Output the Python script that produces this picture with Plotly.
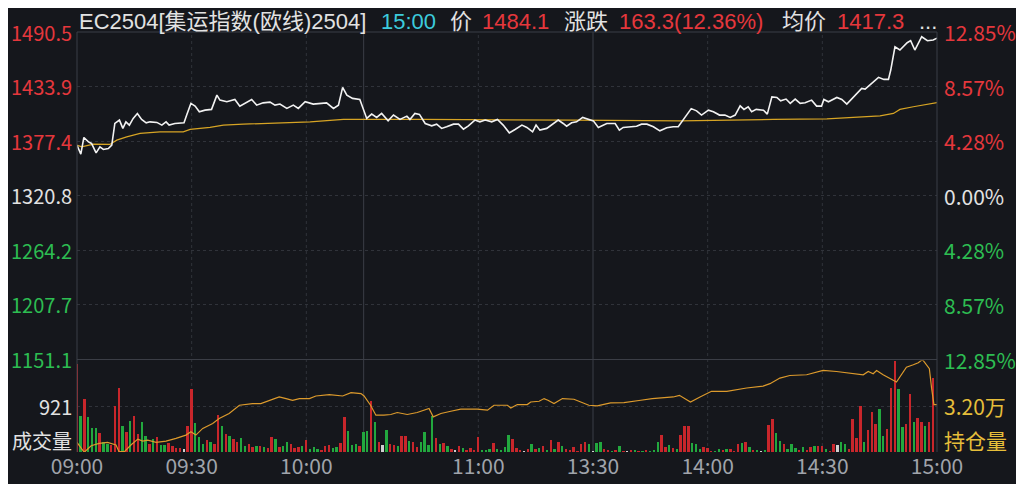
import plotly.graph_objects as go

# ---------------- data ----------------
tick_minutes = [0, 30, 60, 105, 135, 165, 195, 225]
tick_labels = ["09:00", "09:30", "10:00", "11:00", "13:30", "14:00", "14:30", "15:00"]
half_hour_lines = [30, 60, 105, 165, 195]
session_breaks = [75, 135]

contract_name = "EC2504[集运指数(欧线)2504]"
last_time = "15:00"
pre_settle = 1320.8
price_ticks = [1490.5, 1433.9, 1377.4, 1320.8, 1264.2, 1207.7, 1151.1]
pct_labels = ["12.85%", "8.57%", "4.28%", "0.00%", "4.28%", "8.57%", "12.85%"]

# price line (minutes after 09:00 in trading time, price)
price_min = [0, 1.0, 1.8, 3.0, 3.8, 5.0, 6.0, 6.9, 8.2, 9.1,
             9.9, 11.1, 12.0, 12.8, 13.7, 14.7, 15.8, 16.9, 18.1, 19.1,
             20.9, 22.2, 23.3, 24.1, 25.6, 28.0, 28.7, 29.8, 30.9, 32.0,
             33.5, 35.2, 36.6, 37.4, 39.2, 41.3, 42.6, 44.0, 45.7, 47.0,
             48.7, 50.5, 51.8, 53.1, 54.9, 56.6, 57.9, 59.7, 61.8, 65.3,
             67.1, 68.4, 69.5, 70.6, 72.1, 74.0, 75.8, 77.1, 78.4, 79.7,
             81.4, 82.8, 84.5, 86.3, 87.1, 88.4, 89.6, 91.1, 92.8, 94.1,
             95.4, 96.7, 98.5, 99.8, 101.1, 102.4, 104.1, 105.4, 106.8, 108.5,
             110.0, 111.5, 113.1, 114.6, 116.4, 117.7, 119.2, 120.1, 121.1, 122.9,
             124.6, 125.9, 127.2, 128.1, 129.4, 130.7, 132.3, 133.8, 135.1, 136.4,
             138.6, 140.8, 141.9, 142.9, 144.7, 146.4, 147.7, 149.1, 150.8, 152.5,
             154.3, 156.0, 157.3, 159.0, 160.7, 162.1, 163.4, 165.2, 166.5, 168.1,
             169.5, 170.9, 172.2, 173.5, 174.5, 175.6, 176.5, 177.7, 179.6, 180.6,
             181.8, 183.1, 184.1, 185.5, 186.6, 187.9, 189.2, 190.5, 192.2, 193.5,
             194.8, 195.4, 196.6, 198.8, 200.1, 201.4, 203.1, 205.3, 206.2, 208.3,
             209.7, 211.1, 212.3, 212.9, 214.0, 215.3, 217.2, 218.1, 219.2, 221.0,
             222.5, 224.0, 225.0]
price_val = [1373.2, 1363.9, 1381.2, 1376.6, 1375.0, 1365.2, 1371.5, 1368.8, 1369.8, 1373.2,
             1395.7, 1399.2, 1390.6, 1397.4, 1394.0, 1400.9, 1406.1, 1399.9, 1396.4, 1397.4,
             1396.8, 1394.0, 1397.4, 1394.0, 1395.7, 1396.4, 1404.4, 1416.5, 1413.7, 1407.8,
             1409.5, 1410.3, 1425.1, 1419.9, 1418.2, 1420.6, 1413.7, 1416.5, 1420.6, 1414.7,
             1417.1, 1417.8, 1414.7, 1415.8, 1411.3, 1414.7, 1411.3, 1418.2, 1415.8, 1417.1,
             1411.3, 1414.7, 1433.1, 1425.1, 1421.7, 1420.6, 1400.9, 1405.4, 1402.0, 1406.1,
             1398.4, 1404.4, 1399.9, 1403.3, 1399.9, 1406.1, 1405.1, 1395.7, 1393.3, 1395.0,
             1390.6, 1392.3, 1395.0, 1395.0, 1389.8, 1393.3, 1399.2, 1397.4, 1399.2, 1397.4,
             1399.9, 1394.0, 1386.0, 1389.5, 1394.0, 1391.6, 1387.0, 1394.0, 1388.8, 1390.6,
             1395.0, 1399.2, 1395.7, 1392.9, 1396.4, 1397.4, 1402.0, 1399.9, 1398.4, 1391.6,
             1395.7, 1395.7, 1388.8, 1391.6, 1392.3, 1392.9, 1395.0, 1395.0, 1392.3, 1388.1,
             1391.2, 1392.3, 1392.3, 1401.8, 1411.1, 1408.8, 1404.4, 1409.5, 1407.8, 1404.4,
             1404.4, 1402.0, 1404.4, 1414.0, 1410.3, 1413.0, 1407.8, 1410.3, 1409.5, 1405.4,
             1423.3, 1422.7, 1419.2, 1421.0, 1416.5, 1421.0, 1416.5, 1417.1, 1419.9, 1413.7,
             1413.7, 1420.6, 1418.2, 1422.7, 1420.6, 1415.8, 1423.3, 1432.1, 1431.3, 1438.9,
             1443.5, 1441.4, 1441.4, 1451.1, 1475.2, 1471.8, 1479.4, 1481.5, 1471.8, 1485.6,
             1481.5, 1482.2, 1484.1]

# average price line
avg_min = [0, 1.2, 4.3, 8.6, 10.4, 13.0, 16.5, 21.7, 27.8, 29.6, 34.8, 38.3, 43.5, 52.3,
           61.0, 69.7, 78.4, 90.0, 130.0, 157.8, 182.2, 196.2, 203.1, 210.1, 213.6, 215.3,
           218.8, 224.0, 225.0]
avg_val = [1373.2, 1371.5, 1374.3, 1374.0, 1378.4, 1381.8, 1385.4, 1387.0, 1387.0, 1389.5,
           1391.6, 1394.0, 1395.0, 1396.4, 1397.4, 1399.9, 1400.2, 1399.9, 1399.2, 1398.4,
           1399.9, 1400.5, 1402.0, 1403.6, 1406.1, 1410.3, 1413.0, 1416.5, 1417.3]

# per-minute volume (lots), direction R=up G=down W=flat
volume = [1774, 740, 1087, 707, 487, 487, 393, 207, 173, 153,
          940, 1307, 540, 407, 640, 727, 373, 620, 340, 173,
          273, 307, 153, 153, 193, 127, 87, 87, 73, 540,
          1274, 594, 307, 173, 260, 220, 173, 754, 527, 373,
          327, 273, 207, 287, 127, 173, 107, 140, 127, 107,
          87, 307, 273, 107, 140, 220, 173, 87, 107, 140,
          260, 73, 107, 73, 60, 140, 153, 87, 107, 193,
          707, 440, 153, 173, 127, 420, 440, 1040, 607, 220,
          153, 460, 173, 153, 140, 327, 327, 240, 220, 107,
          207, 407, 153, 740, 287, 173, 193, 140, 73, 60,
          140, 87, 60, 87, 60, 307, 60, 60, 73, 193,
          73, 60, 107, 353, 273, 87, 60, 40, 73, 173,
          73, 87, 127, 60, 260, 73, 220, 140, 73, 60,
          107, 40, 173, 207, 173, 40, 193, 220, 73, 60,
          40, 60, 127, 40, 40, 60, 60, 40, 40, 60,
          40, 60, 207, 353, 107, 153, 87, 73, 353, 540,
          540, 193, 173, 73, 107, 87, 40, 40, 73, 60,
          73, 73, 40, 173, 193, 220, 107, 60, 60, 40,
          60, 554, 674, 394, 240, 173, 73, 173, 87, 60,
          107, 60, 107, 140, 127, 127, 73, 40, 173, 153,
          220, 173, 73, 674, 287, 927, 220, 460, 807, 574,
          874, 340, 474, 1307, 1841, 1287, 507, 574, 1174, 607,
          687, 607, 540, 620, 1507]
vol_dir = list("RGRGGGRGGR" "RRGRGRRGGR" "GRGGRRRRWR" "RGGGRGRRGR" "GRRGGRRGRG"
               "RRGRGGRRRG" "RGGGRRRGGR" "RGGGR" "GGRGR" "WGRRGRRGRR" "GGGGRGRGRW"
               "RGRRRRGGGR" "GGGGRRRWRG" "RGRGRGRGRR" "RRRRGWGGRR" "GRGRWRGRGR"
               "GGGRRGRGRR" "RGGGRRRGGR" "GRRRGRGRGW" "GRRGGRGGGR" "GRRGRRGRRW"
               "GGRRRRGRRR" "GGRRRGGRRG" "RRGRR")
vol_axis_max = 1842
vol_label = "921"

# open interest line
oi_min = [0, 1.9, 3.7, 5.8, 8.0, 10.2, 11.0, 12.4, 14.1, 15.9, 17.2, 18.5, 20.7, 23.3, 25.9,
          28.5, 29.8, 31.1, 32.9, 35.5, 37.2, 39.8, 42.5, 45.9, 48.1, 50.3, 52.9, 54.7, 56.4,
          58.2, 60.8, 62.5, 66.0, 69.5, 71.7, 74.3, 75.1, 76.8, 78.2, 80.3, 82.1, 83.8, 86.4,
          89.0, 90.8, 92.1, 93.2, 95.2, 97.8, 100.4, 104.7, 107.4, 109.1, 112.6, 113.5, 115.2,
          117.8, 118.7, 120.9, 122.2, 123.2, 124.8, 127.0, 130.0, 131.8, 133.9, 136.1, 139.6,
          143.1, 144.8, 147.5, 150.5, 153.4, 156.0, 157.6, 160.5, 163.0, 166.0, 170.0, 175.2,
          179.5, 181.3, 183.9, 186.5, 190.9, 195.2, 198.7, 203.1, 205.7, 207.0, 208.3, 209.2,
          210.9, 214.4, 217.0, 218.8, 220.1, 221.2, 223.0, 223.6, 224.2, 225.0]
oi_val = [30737, 30390, 30619, 30703, 30737, 30643, 30410, 30410, 30643, 30852, 30783, 30817,
          30737, 30783, 30876, 30991, 31107, 30991, 31224, 31398, 31572, 31746, 32035, 32094,
          32094, 32209, 32325, 32268, 32209, 32268, 32268, 32358, 32407, 32358, 32476, 32442,
          32358, 32035, 31687, 31687, 31711, 31781, 31711, 31781, 31861, 31920, 31628, 31746,
          31826, 31896, 31896, 31861, 32035, 32035, 31941, 32059, 32059, 32150, 32174, 32268,
          32209, 32094, 32268, 32244, 32150, 32035, 32012, 32115, 32128, 32150, 32209, 32268,
          32289, 32325, 32383, 32150, 32325, 32522, 32522, 32638, 32706, 32789, 32985, 33076,
          33101, 33252, 33216, 33137, 33101, 33216, 33137, 33252, 33101, 32846, 33368, 33450,
          33520, 33635, 33311, 32615, 32059, 32059]
oi_range = [30400, 33600]
oi_label = "3.20万"

assert len(price_min) == len(price_val)
assert len(avg_min) == len(avg_val)
assert len(volume) == len(vol_dir)
assert len(oi_min) == len(oi_val)

# ---------------- styling ----------------
BG = "#15171c"
RED = "#e5373c"
GREEN = "#2dbd52"
WHITE = "#e2e2e2"
GRAY = "#a0a4ab"
CYAN = "#3ccbdc"
YELLOW = "#e6be3a"
GRID = "#30333a"
SOLID = "#3b3e46"
FONT = "Noto Sans CJK SC, Microsoft YaHei, sans-serif"
TITLE_FONT = "Liberation Sans, Noto Sans CJK SC, sans-serif"
FS = 21
FS_LEFT = 20
FS_TITLE = 22

# target plot box in the final picture: x 77..937, y 32..452
W, H = 1024, 484
L, R, T, B = 69, 95, 24, 32
PW = W - L - R            # 860
PLOT_TOP, PLOT_BOT = 32, 452
PH = PLOT_BOT - PLOT_TOP  # 420
price_dom = [(PLOT_BOT - 359.5) / PH, 1.0]
vol_dom = [0.0, (PLOT_BOT - 360.5) / PH]

dir_color = {"R": "#c8262b", "G": "#22a83e", "W": "#d0d0d0"}
bar_x = list(range(len(volume)))

fig = go.Figure()
fig.add_trace(go.Bar(x=bar_x, y=volume, marker=dict(color=[dir_color[d] for d in vol_dir], line=dict(width=0)),
                     width=0.5, xaxis="x2", yaxis="y3", hoverinfo="skip"))
fig.add_trace(go.Scatter(x=oi_min, y=oi_val, mode="lines", line=dict(color="#dc9a2c", width=1.2),
                         xaxis="x2", yaxis="y4", hoverinfo="skip"))
fig.add_trace(go.Scatter(x=avg_min, y=avg_val, mode="lines", line=dict(color="#d6a424", width=1.2),
                         xaxis="x", yaxis="y", hoverinfo="skip"))
fig.add_trace(go.Scatter(x=price_min, y=price_val, mode="lines", line=dict(color="#f2f2f2", width=1.6),
                         xaxis="x", yaxis="y", hoverinfo="skip"))

shapes = []
for m in half_hour_lines:
    shapes.append(dict(type="line", xref="x", yref="paper", x0=m, x1=m, y0=0, y1=1,
                       line=dict(color=GRID, width=1, dash="dot"), layer="below"))
for m in session_breaks:
    shapes.append(dict(type="line", xref="x", yref="paper", x0=m, x1=m, y0=0, y1=1,
                       line=dict(color=SOLID, width=1), layer="below"))
shapes.append(dict(type="line", xref="paper", yref="paper", x0=0, x1=1, y0=1, y1=1, line=dict(color=SOLID, width=1)))
shapes.append(dict(type="line", xref="paper", yref="paper", x0=0, x1=1, y0=price_dom[0], y1=price_dom[0],
                   line=dict(color=SOLID, width=1)))
shapes.append(dict(type="line", xref="paper", yref="paper", x0=0, x1=0, y0=0, y1=1, line=dict(color=SOLID, width=1)))
shapes.append(dict(type="line", xref="paper", yref="paper", x0=1, x1=1, y0=0, y1=1, line=dict(color=SOLID, width=1)))

ann = []
def px_x(px):
    return (px - 77) / PW
def px_y(py):
    return (PLOT_BOT - py) / PH

for t, pl in zip(price_ticks, pct_labels):
    if t > pre_settle + 1e-6:
        c = RED
    elif t < pre_settle - 1e-6:
        c = GREEN
    else:
        c = WHITE
    ann.append(dict(x=px_x(74), y=t, xref="paper", yref="y", text=f"{t:.1f}", showarrow=False,
                    xanchor="right", yanchor="middle", font=dict(color=c, size=FS_LEFT, family=FONT)))
    ann.append(dict(x=px_x(942), y=t, xref="paper", yref="y", text=pl, showarrow=False,
                    xanchor="left", yanchor="middle", font=dict(color=c, size=FS, family=FONT)))

ann.append(dict(x=px_x(74), y=vol_axis_max / 2, xref="paper", yref="y3", text=vol_label, showarrow=False,
                xanchor="right", yanchor="middle", font=dict(color=WHITE, size=FS_LEFT, family=FONT)))
ann.append(dict(x=px_x(74), y=px_y(440), xref="paper", yref="paper", text="成交量", showarrow=False,
                xanchor="right", yanchor="middle", font=dict(color=WHITE, size=FS_LEFT, family=FONT)))
ann.append(dict(x=px_x(942), y=sum(oi_range) / 2, xref="paper", yref="y4", text=oi_label, showarrow=False,
                xanchor="left", yanchor="middle", font=dict(color=YELLOW, size=FS, family=FONT)))
ann.append(dict(x=px_x(942), y=px_y(440), xref="paper", yref="paper", text="持仓量", showarrow=False,
                xanchor="left", yanchor="middle", font=dict(color=YELLOW, size=FS, family=FONT)))

last = price_val[-1]
chg = last - pre_settle
pct = chg / pre_settle * 100
avg_last = avg_val[-1]
title_parts = [
    (contract_name, 77, WHITE),
    (last_time, 379, CYAN),
    ("价", 448, WHITE),
    (f"{last:.1f}", 480, RED),
    ("涨跌", 562, WHITE),
    (f"{chg:.1f}({pct:.2f}%)", 617, RED),
    ("均价", 780, WHITE),
    (f"{avg_last:.1f}", 835, RED),
    ("...", 917, WHITE),
]
for txt, px, c in title_parts:
    ann.append(dict(x=px_x(px), y=px_y(21), xref="paper", yref="paper", text=txt, showarrow=False,
                    xanchor="left", yanchor="middle", font=dict(color=c, size=FS_TITLE, family=TITLE_FONT)))

fig.update_layout(
    width=W, height=H, margin=dict(l=L, r=R, t=T, b=B),
    paper_bgcolor=BG, plot_bgcolor=BG, showlegend=False, bargap=0,
    xaxis=dict(domain=[0, 1], anchor="y", range=[0, 225], showticklabels=False, showgrid=False,
               zeroline=False, fixedrange=True),
    xaxis2=dict(domain=[0, 1], anchor="y3", matches="x", range=[0, 225], tickmode="array",
                tickvals=tick_minutes, ticktext=tick_labels, showgrid=False, zeroline=False,
                ticks="", tickfont=dict(color=GRAY, size=FS, family=FONT)),
    yaxis=dict(domain=price_dom, range=[price_ticks[-1], price_ticks[0]], tickmode="array",
               tickvals=price_ticks[1:-1], showticklabels=False, showgrid=True, gridcolor=GRID,
               griddash="dot", gridwidth=1, zeroline=False),
    yaxis3=dict(domain=vol_dom, range=[0, vol_axis_max], tickmode="array", tickvals=[vol_axis_max / 2],
                showticklabels=False, showgrid=True, gridcolor=GRID, griddash="dot", zeroline=False),
    yaxis4=dict(domain=vol_dom, overlaying="y3", anchor="x2", range=oi_range, showticklabels=False,
                showgrid=False, zeroline=False),
    shapes=shapes, annotations=ann,
)

fig.write_html("out.html")
